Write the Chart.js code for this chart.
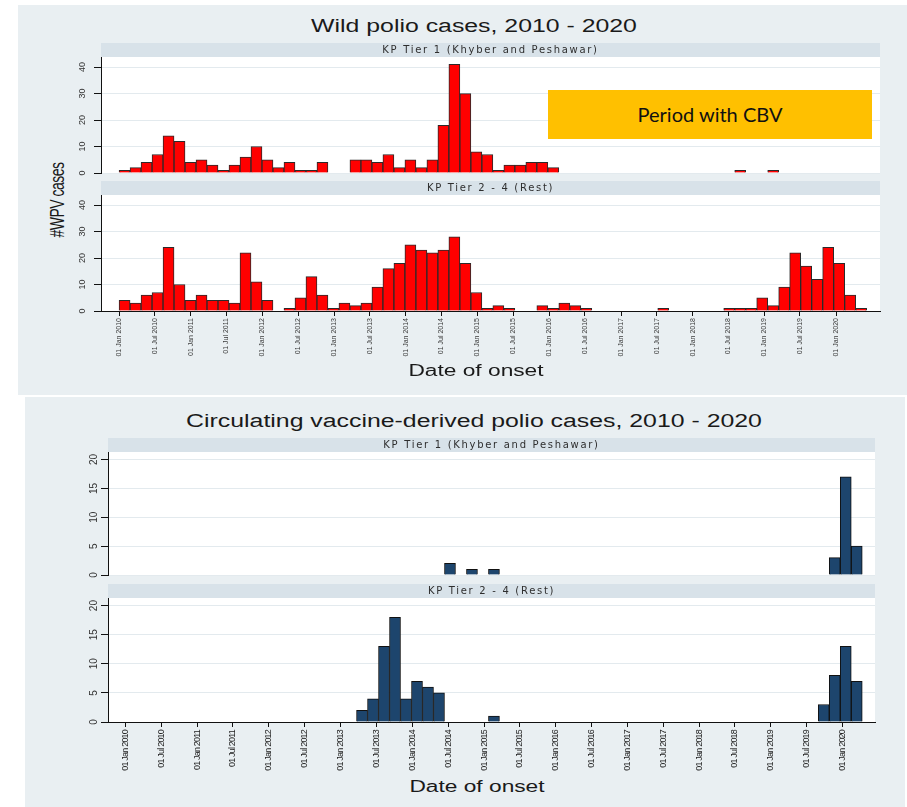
<!DOCTYPE html>
<html>
<head>
<meta charset="utf-8">
<script src="https://cdn.jsdelivr.net/npm/chart.js@4.4.0/dist/chart.umd.min.js"></script>
<style>
  body { margin: 0; width: 907px; height: 807px; position: relative; overflow: hidden; background: #ffffff; font-family: 'Liberation Sans', Arial, sans-serif; }
  .panel { position: absolute; background: #e9eff2; }
  canvas { position: absolute; }
  .txt { position: absolute; white-space: nowrap; color: #1a1a1a; transform: translate(-50%, -50%) scaleX(1.38); }
  .ytitle { position: absolute; white-space: nowrap; color: #1a1a1a; font-size: 14px; letter-spacing: -0.5px; transform: translate(-50%, -50%) rotate(-90deg) scaleY(1.4); }
  .cbv { position: absolute; left: 548px; top: 90px; width: 324px; height: 49px; background: #ffc000; color: #111; font-family: Lato, 'Open Sans', sans-serif; font-size: 20px; line-height: 49px; text-align: center; z-index: 2; }
</style>
</head>
<body>
<div class="panel" style="left:18px; top:5px; width:889px; height:390px;"></div>
<div class="panel" style="left:25px; top:397px; width:880px; height:410px;"></div>

<div class="txt" style="left:474px; top:26px; font-size:18px;">Wild polio cases, 2010 - 2020</div>
<div class="ytitle" style="left:57px; top:200px;">#WPV cases</div>
<canvas id="wpv1" width="826" height="138" style="left:60px; top:40px;"></canvas>
<canvas id="wpv2" width="826" height="187" style="left:60px; top:178px;"></canvas>
<div class="cbv">Period with CBV</div>
<div class="txt" style="left:476px; top:371px; font-size:16px; transform: translate(-50%, -50%) scaleX(1.42);">Date of onset</div>

<div class="txt" style="left:474px; top:421px; font-size:18px;">Circulating vaccine-derived polio cases, 2010 - 2020</div>
<canvas id="cv1" width="821" height="145" style="left:60px; top:435px;"></canvas>
<canvas id="cv2" width="821" height="195" style="left:60px; top:581px;"></canvas>
<div class="txt" style="left:477px; top:787px; font-size:16px; transform: translate(-50%, -50%) scaleX(1.42);">Date of onset</div>

<script>
// Data (8-week bins counted from 01 Jan 2010)
const binDays = 56;

const tickLabels = [
  '01 Jan 2010', '01 Jul 2010', '01 Jan 2011', '01 Jul 2011', '01 Jan 2012', '01 Jul 2012',
  '01 Jan 2013', '01 Jul 2013', '01 Jan 2014', '01 Jul 2014', '01 Jan 2015', '01 Jul 2015',
  '01 Jan 2016', '01 Jul 2016', '01 Jan 2017', '01 Jul 2017', '01 Jan 2018', '01 Jul 2018',
  '01 Jan 2019', '01 Jul 2019', '01 Jan 2020',
];

// Wild polio cases per bin
const wpvTier1 = [
  1, 2, 4, 7, 14, 12, 4, 5, 3, 1,
  3, 6, 10, 5, 2, 4, 1, 1, 4, 0,
  0, 5, 5, 4, 7, 2, 5, 2, 5, 18,
  41, 30, 8, 7, 1, 3, 3, 4, 4, 2,
  0, 0, 0, 0, 0, 0, 0, 0, 0, 0,
  0, 0, 0, 0, 0, 0, 1, 0, 0, 1,
  0, 0, 0, 0, 0, 0, 0, 0,
];
const wpvRest = [
  4, 3, 6, 7, 24, 10, 4, 6, 4, 4,
  3, 22, 11, 4, 0, 1, 5, 13, 6, 1,
  3, 2, 3, 9, 16, 18, 25, 23, 22, 23,
  28, 18, 7, 1, 2, 1, 0, 0, 2, 1,
  3, 2, 1, 0, 0, 0, 0, 0, 0, 1,
  0, 0, 0, 0, 0, 1, 1, 1, 5, 2,
  9, 22, 17, 12, 24, 18, 6, 1,
];

// Circulating vaccine-derived polio cases per bin
const cvdpvTier1 = [
  0, 0, 0, 0, 0, 0, 0, 0, 0, 0,
  0, 0, 0, 0, 0, 0, 0, 0, 0, 0,
  0, 0, 0, 0, 0, 0, 0, 0, 0, 2,
  0, 1, 0, 1, 0, 0, 0, 0, 0, 0,
  0, 0, 0, 0, 0, 0, 0, 0, 0, 0,
  0, 0, 0, 0, 0, 0, 0, 0, 0, 0,
  0, 0, 0, 0, 3, 17, 5, 0,
];
const cvdpvRest = [
  0, 0, 0, 0, 0, 0, 0, 0, 0, 0,
  0, 0, 0, 0, 0, 0, 0, 0, 0, 0,
  0, 2, 4, 13, 18, 4, 7, 6, 5, 0,
  0, 0, 0, 1, 0, 0, 0, 0, 0, 0,
  0, 0, 0, 0, 0, 0, 0, 0, 0, 0,
  0, 0, 0, 0, 0, 0, 0, 0, 0, 0,
  0, 0, 0, 3, 8, 13, 7, 0,
];

const wpvTicks = [0, 10, 20, 30, 40];
const cvdpvTicks = [0, 5, 10, 15, 20];

// Helpers
const monthIndex = { Jan: 0, Jul: 6 };

function dayOffset(label) {
  // Days between 01 Jan 2010 and a tick label such as '01 Jul 2013'.
  const [d, m, y] = label.split(' ');
  return (Date.UTC(+y, monthIndex[m], +d) - Date.UTC(2010, 0, 1)) / 864e5;
}

const tickDays = tickLabels.map(dayOffset);

function spaced(ctx, box, method, spacing) {
  // Runs one draw method of a layout box with letter spacing, to mimic the stretched original text.
  if (!box || box['spaced_' + method]) return;
  const draw = box[method].bind(box);
  box[method] = (area) => { ctx.save(); ctx.letterSpacing = spacing; draw(area); ctx.restore(); };
  box['spaced_' + method] = true;
}

function panelPlugin(c) {
  return {
    id: 'panel',
    beforeDraw(chart) {
      // Grey strip behind the panel label and white plot area
      const { ctx, chartArea: a } = chart;
      ctx.save();
      ctx.fillStyle = '#d8e2e9';
      ctx.fillRect(a.left, a.top - 14, a.right - a.left, 14);
      ctx.fillStyle = '#ffffff';
      ctx.fillRect(a.left, a.top, a.right - a.left, a.bottom - a.top);
      ctx.restore();

      spaced(ctx, chart.titleBlock, 'draw', '1.7px');
      if (c.showX) spaced(ctx, chart.scales.x, 'drawLabels', c.xSpacing);
    },
    afterDraw(chart) {
      // Y tick labels turned 90 degrees
      const { ctx } = chart;
      const s = chart.scales.y;
      ctx.save();
      ctx.fillStyle = '#333333';
      ctx.font = `${c.yFontSize}px 'Liberation Sans', sans-serif`;
      ctx.textAlign = 'center';
      ctx.textBaseline = 'middle';
      s.ticks.forEach((t) => {
        ctx.save();
        ctx.translate(s.right - c.yGap, s.getPixelForValue(t.value));
        ctx.rotate(-Math.PI / 2);
        ctx.fillText(String(t.value), 0, 0);
        ctx.restore();
      });
      ctx.restore();
    },
  };
}

function newPanel(id, c) {
  // Builds one histogram panel.
  const points = c.values.map((v, i) => ({ x: i * binDays + binDays / 2, y: v }));

  return new Chart(document.getElementById(id), {
    type: 'bar',
    data: {
      datasets: [{
        data: points,
        backgroundColor: c.fill,
        borderColor: c.edge,
        borderWidth: 1,
        categoryPercentage: 1,
        barPercentage: 1,
      }],
    },
    options: {
      responsive: false,
      animation: false,
      events: [],
      layout: { padding: { top: 3, right: 6, bottom: c.showX ? 0 : 5, left: 0 } },
      plugins: {
        legend: { display: false },
        tooltip: { enabled: false },
        title: {
          display: true,
          text: c.strip,
          fullSize: false,
          padding: 0,
          color: '#2e2e2e',
          font: { family: "'DejaVu Sans', sans-serif", size: 10, weight: 'normal', lineHeight: 1.4 },
        },
      },
      scales: {
        x: {
          type: 'linear',
          offset: false,
          display: c.showX,
          min: c.xMin,
          max: c.xMax,
          afterBuildTicks: (s) => { s.ticks = tickDays.map((v) => ({ value: v })); },
          afterFit: (s) => {
            if (c.showX) s.height = c.xHeight;
            s.paddingLeft = 0;
            s.paddingRight = 0;
          },
          ticks: {
            autoSkip: false,
            minRotation: 90,
            maxRotation: 90,
            padding: c.xPad,
            color: c.xColor,
            font: c.xFont,
            callback: (value, index) => tickLabels[index],
          },
          grid: { display: true, offset: false, drawOnChartArea: false, drawTicks: true, tickLength: 5, tickColor: '#111111' },
          border: { display: true, color: '#111111', width: 1 },
        },
        y: {
          min: 0,
          max: c.yMax,
          afterBuildTicks: (s) => { s.ticks = c.yTicks.map((v) => ({ value: v })); },
          afterFit: (s) => { s.width = c.yWidth; s.paddingTop = 0; s.paddingBottom = 0; },
          ticks: { display: false },
          grid: { color: '#e3eaee', lineWidth: 1, drawTicks: true, tickLength: 7, tickColor: '#111111' },
          border: { display: true, color: '#111111', width: 1 },
        },
      },
    },
    plugins: [panelPlugin(c)],
  });
}

// Wild polio panels
const wpvCommon = {
  fill: '#ff0000',
  edge: '#2a2a2a',
  xMin: -92,
  xMax: 3876,
  yMax: 43.8,
  yTicks: wpvTicks,
  yWidth: 41,
  yGap: 18,
  yFontSize: 9,
  xPad: 2,
  xColor: '#3a3a3a',
  xFont: { family: "'Liberation Sans', sans-serif", size: 7 },
  xSpacing: '0px',
  xHeight: 54,
};

newPanel('wpv1', { ...wpvCommon, values: wpvTier1, strip: 'KP Tier 1 (Khyber and Peshawar)', showX: false });
newPanel('wpv2', { ...wpvCommon, values: wpvRest, strip: 'KP Tier 2 - 4 (Rest)', showX: true });

// cVDPV panels
const cvdpvCommon = {
  fill: '#1d456d',
  edge: '#111111',
  xMin: -90,
  xMax: 3817,
  yMax: 21.3,
  yTicks: cvdpvTicks,
  yWidth: 48,
  yGap: 14,
  yFontSize: 10,
  xPad: 3,
  xColor: '#222222',
  xFont: { family: "'Liberation Sans', sans-serif", size: 9 },
  xSpacing: '-0.8px',
  xHeight: 54,
};

newPanel('cv1', { ...cvdpvCommon, values: cvdpvTier1, strip: 'KP Tier 1 (Khyber and Peshawar)', showX: false });
newPanel('cv2', { ...cvdpvCommon, values: cvdpvRest, strip: 'KP Tier 2 - 4 (Rest)', showX: true });
</script>
</body>
</html>
